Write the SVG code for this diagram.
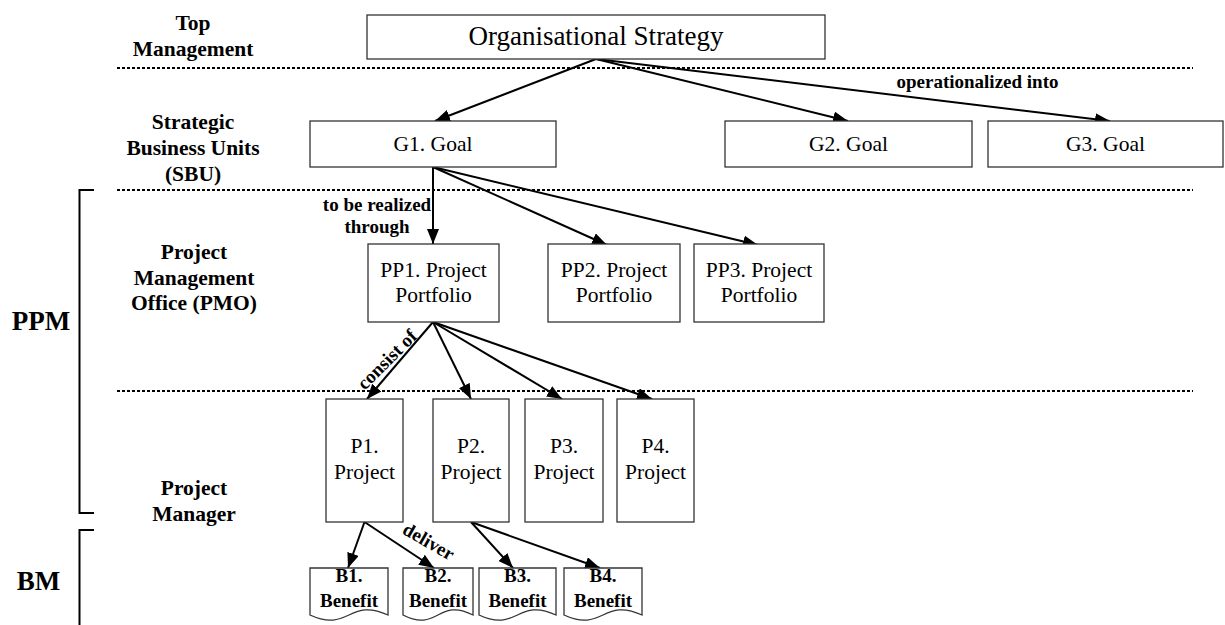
<svg xmlns="http://www.w3.org/2000/svg" width="1225" height="625" viewBox="0 0 1225 625">
  <style>
    text { font-family: "Liberation Serif", "Times New Roman", serif; fill: #000; }
    .box { fill: #fff; stroke: #333; stroke-width: 1.3; }
    .doc { fill: #fff; stroke: #333; stroke-width: 1.3; }
    .node { font-size: 21.5px; text-anchor: middle; }
    .title { font-size: 27px; text-anchor: middle; }
    .lane { font-size: 21.5px; font-weight: bold; text-anchor: middle; }
    .big { font-size: 27px; font-weight: bold; text-anchor: middle; }
    .lbl { font-size: 19px; font-weight: bold; text-anchor: middle; }
    .ben { font-size: 19px; font-weight: bold; text-anchor: middle; }
    .sep { stroke: #000; stroke-width: 2; stroke-dasharray: 3 2; fill: none; }
    .brace { stroke: #000; stroke-width: 2; fill: none; }
    .conn { stroke: #000; stroke-width: 2; fill: none; marker-end: url(#arrow); }
  </style>
  <defs>
    <marker id="arrow" markerUnits="userSpaceOnUse" markerWidth="16" markerHeight="13" refX="15" refY="6" orient="auto">
      <path d="M0,0 L15,6 L0,12 z" fill="#000"/>
    </marker>
  </defs>

  <rect width="1225" height="625" fill="#fff"/>

  <!-- level separators -->
  <g id="separators">
    <line class="sep" x1="117" y1="68" x2="1193" y2="68"/>
    <line class="sep" x1="117" y1="190" x2="1193" y2="190"/>
    <line class="sep" x1="117" y1="391" x2="1193" y2="391"/>
  </g>

  <!-- brackets for PPM and BM -->
  <g id="brackets">
    <path class="brace" d="M94,190 H79.5 V513 H94"/>
    <path class="brace" d="M94,530 H79.5 V625"/>
  </g>

  <!-- level labels -->
  <g id="levels">
    <text class="lane" x="193" y="30">Top</text>
    <text class="lane" x="193" y="56">Management</text>
    <text class="lane" x="193" y="129">Strategic</text>
    <text class="lane" x="193" y="155">Business Units</text>
    <text class="lane" x="193" y="181">(SBU)</text>
    <text class="lane" x="194" y="259">Project</text>
    <text class="lane" x="194" y="285">Management</text>
    <text class="lane" x="194" y="310">Office (PMO)</text>
    <text class="lane" x="194" y="495">Project</text>
    <text class="lane" x="194" y="521">Manager</text>
    <text class="big" x="41" y="330">PPM</text>
    <text class="big" x="38.5" y="590">BM</text>
  </g>

  <!-- connectors -->
  <g id="connectors">
    <line class="conn" x1="596" y1="59" x2="435" y2="121"/>
    <line class="conn" x1="596" y1="59" x2="848" y2="121"/>
    <line class="conn" x1="596" y1="59" x2="1110" y2="121"/>
    <line class="conn" x1="433" y1="167" x2="433" y2="244"/>
    <line class="conn" x1="433" y1="167" x2="607" y2="245"/>
    <line class="conn" x1="433" y1="167" x2="758" y2="245"/>
    <line class="conn" x1="433" y1="322" x2="367" y2="399"/>
    <line class="conn" x1="433" y1="322" x2="471" y2="399"/>
    <line class="conn" x1="433" y1="322" x2="562" y2="399"/>
    <line class="conn" x1="433" y1="322" x2="652" y2="399"/>
    <line class="conn" x1="364.5" y1="522" x2="348" y2="568"/>
    <line class="conn" x1="364.5" y1="522" x2="434" y2="568"/>
    <line class="conn" x1="471" y1="522" x2="513" y2="568"/>
    <line class="conn" x1="471" y1="522" x2="600" y2="568"/>
    <text class="lbl" x="977.5" y="88">operationalized into</text>
    <text class="lbl" x="377" y="211">to be realized</text>
    <text class="lbl" x="377" y="233">through</text>
    <text class="lbl" transform="translate(391.5,364) rotate(-45)">consist of</text>
    <text class="lbl" transform="translate(425.5,547) rotate(30)">deliver</text>
  </g>

  <!-- strategy -->
  <g id="strategy">
    <rect class="box" x="367" y="15" width="458" height="44"/>
    <text class="title" x="596" y="45">Organisational Strategy</text>
  </g>

  <!-- goals -->
  <g id="g1">
    <rect class="box" x="310" y="121" width="246" height="46"/>
    <text class="node" x="433" y="151">G1. Goal</text>
  </g>
  <g id="g2">
    <rect class="box" x="725" y="121" width="247" height="46"/>
    <text class="node" x="848.5" y="151">G2. Goal</text>
  </g>
  <g id="g3">
    <rect class="box" x="988" y="121" width="235" height="46"/>
    <text class="node" x="1105.5" y="151">G3. Goal</text>
  </g>

  <!-- project portfolios -->
  <g id="pp1">
    <rect class="box" x="368" y="244" width="131" height="78"/>
    <text class="node" x="433.5" y="277">PP1. Project</text>
    <text class="node" x="433.5" y="302">Portfolio</text>
  </g>
  <g id="pp2">
    <rect class="box" x="548" y="244" width="132" height="78"/>
    <text class="node" x="614" y="277">PP2. Project</text>
    <text class="node" x="614" y="302">Portfolio</text>
  </g>
  <g id="pp3">
    <rect class="box" x="694" y="244" width="130" height="78"/>
    <text class="node" x="759" y="277">PP3. Project</text>
    <text class="node" x="759" y="302">Portfolio</text>
  </g>

  <!-- projects -->
  <g id="p1">
    <rect class="box" x="326" y="399" width="77" height="123"/>
    <text class="node" x="364.5" y="453">P1.</text>
    <text class="node" x="364.5" y="479">Project</text>
  </g>
  <g id="p2">
    <rect class="box" x="433" y="399" width="76" height="123"/>
    <text class="node" x="471" y="453">P2.</text>
    <text class="node" x="471" y="479">Project</text>
  </g>
  <g id="p3">
    <rect class="box" x="525" y="399" width="78" height="123"/>
    <text class="node" x="564" y="453">P3.</text>
    <text class="node" x="564" y="479">Project</text>
  </g>
  <g id="p4">
    <rect class="box" x="617" y="399" width="77" height="123"/>
    <text class="node" x="655.5" y="453">P4.</text>
    <text class="node" x="655.5" y="479">Project</text>
  </g>

  <!-- benefits (document shapes) -->
  <g id="b1">
    <path class="doc" d="M310,568 H388 V615 C349,597 349,633 310,615 Z"/>
    <text class="ben" x="349" y="582">B1.</text>
    <text class="ben" x="349" y="607">Benefit</text>
  </g>
  <g id="b2">
    <path class="doc" d="M403,568 H473 V615 C438,597 438,633 403,615 Z"/>
    <text class="ben" x="438" y="582">B2.</text>
    <text class="ben" x="438" y="607">Benefit</text>
  </g>
  <g id="b3">
    <path class="doc" d="M479,568 H556 V615 C517.5,597 517.5,633 479,615 Z"/>
    <text class="ben" x="517.5" y="582">B3.</text>
    <text class="ben" x="517.5" y="607">Benefit</text>
  </g>
  <g id="b4">
    <path class="doc" d="M564,568 H642 V615 C603,597 603,633 564,615 Z"/>
    <text class="ben" x="603" y="582">B4.</text>
    <text class="ben" x="603" y="607">Benefit</text>
  </g>
</svg>
